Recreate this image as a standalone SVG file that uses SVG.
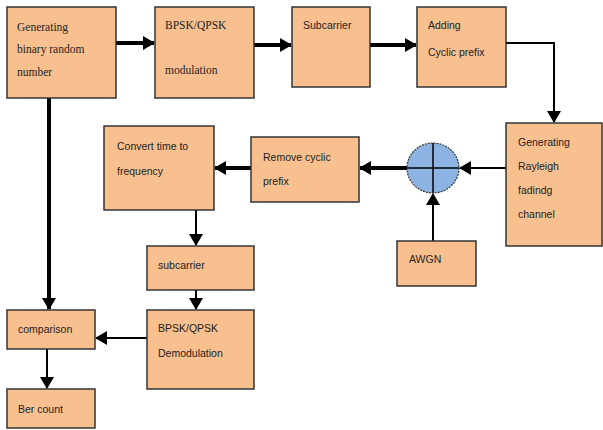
<svg xmlns="http://www.w3.org/2000/svg" width="603" height="430" viewBox="0 0 603 430">
<defs>
<style>
.box{fill:#F9C08F;stroke:#333;stroke-width:1.5}
.t{font-family:"Liberation Sans","Open Sans",sans-serif;font-size:10.5px;fill:#222}
.s{font-family:"Liberation Serif","DejaVu Serif",serif;font-size:11.5px;fill:#222}
.thick{stroke:#000;stroke-width:4;fill:none}
.thin{stroke:#000;stroke-width:2;fill:none}
</style>
<marker id="ah" markerUnits="userSpaceOnUse" markerWidth="12" markerHeight="14" refX="11" refY="7" orient="auto">
<path d="M0,0 L12,7 L0,14 Z" fill="#000"/>
</marker>
</defs>
<rect width="603" height="430" fill="#fff"/>
<g id="connectors">
<line class="thick" x1="116" y1="43" x2="154" y2="43" marker-end="url(#ah)"/>
<line class="thick" x1="254" y1="45" x2="291" y2="45" marker-end="url(#ah)"/>
<line class="thick" x1="370" y1="45" x2="416" y2="45" marker-end="url(#ah)"/>
<polyline class="thin" points="506,43 554,43 554,122" marker-end="url(#ah)"/>
<line class="thin" x1="506" y1="168" x2="460" y2="168" marker-end="url(#ah)"/>
<line class="thin" x1="433" y1="241" x2="433" y2="194" marker-end="url(#ah)"/>
<line class="thick" x1="407" y1="168" x2="360" y2="168" marker-end="url(#ah)"/>
<line class="thick" x1="251" y1="168" x2="215" y2="168" marker-end="url(#ah)"/>
<line class="thin" x1="196" y1="210" x2="196" y2="245" marker-end="url(#ah)"/>
<line class="thin" x1="196" y1="290" x2="196" y2="309" marker-end="url(#ah)"/>
<line class="thick" x1="49" y1="98" x2="49" y2="309" marker-end="url(#ah)"/>
<line class="thin" x1="147" y1="338" x2="96" y2="338" marker-end="url(#ah)"/>
<line class="thin" x1="47" y1="349" x2="47" y2="388" marker-end="url(#ah)"/>
</g>
<g id="gen">
<rect class="box" x="7" y="7" width="109" height="91"/>
<text class="s" x="17" y="31">Generating</text>
<text class="s" x="17" y="53">binary random</text>
<text class="s" x="17" y="76">number</text>
</g>
<g id="mod">
<rect class="box" x="155" y="7" width="99" height="91"/>
<text class="s" x="165" y="29">BPSK/QPSK</text>
<text class="s" x="165" y="74">modulation</text>
</g>
<g id="sub1">
<rect class="box" x="292" y="7" width="78" height="80"/>
<text class="t" x="303" y="29">Subcarrier</text>
</g>
<g id="cp">
<rect class="box" x="417" y="7" width="89" height="80"/>
<text class="t" x="428" y="29">Adding</text>
<text class="t" x="428" y="56">Cyclic prefix</text>
</g>
<g id="ray">
<rect class="box" x="506" y="123" width="96" height="123"/>
<text class="t" x="518" y="146">Generating</text>
<text class="t" x="518" y="170">Rayleigh</text>
<text class="t" x="518" y="194">fadindg</text>
<text class="t" x="518" y="218">channel</text>
</g>
<g id="sum">
<ellipse cx="433" cy="168" rx="26" ry="25" fill="#8DB3E2" stroke="#333" stroke-width="1.2" stroke-dasharray="2,1"/>
<line x1="407" y1="168" x2="459" y2="168" stroke="#000" stroke-width="1.5"/>
<line x1="433" y1="143" x2="433" y2="193" stroke="#000" stroke-width="1.5"/>
</g>
<g id="awgn">
<rect class="box" x="397" y="241" width="79" height="45"/>
<text class="t" x="409" y="263">AWGN</text>
</g>
<g id="rcp">
<rect class="box" x="251" y="137" width="108" height="65"/>
<text class="t" x="263" y="161">Remove cyclic</text>
<text class="t" x="263" y="185">prefix</text>
</g>
<g id="ctf">
<rect class="box" x="104" y="126" width="110" height="84"/>
<text class="t" x="117" y="150">Convert time to</text>
<text class="t" x="117" y="175">frequency</text>
</g>
<g id="sub2">
<rect class="box" x="147" y="246" width="107" height="44"/>
<text class="t" x="158" y="269">subcarrier</text>
</g>
<g id="demod">
<rect class="box" x="147" y="310" width="107" height="79"/>
<text class="t" x="158" y="332">BPSK/QPSK</text>
<text class="t" x="158" y="357">Demodulation</text>
</g>
<g id="cmp">
<rect class="box" x="7" y="310" width="88" height="39"/>
<text class="t" x="18" y="333">comparison</text>
</g>
<g id="ber">
<rect class="box" x="7" y="389" width="88" height="39"/>
<text class="t" x="18" y="413">Ber count</text>
</g>
</svg>
